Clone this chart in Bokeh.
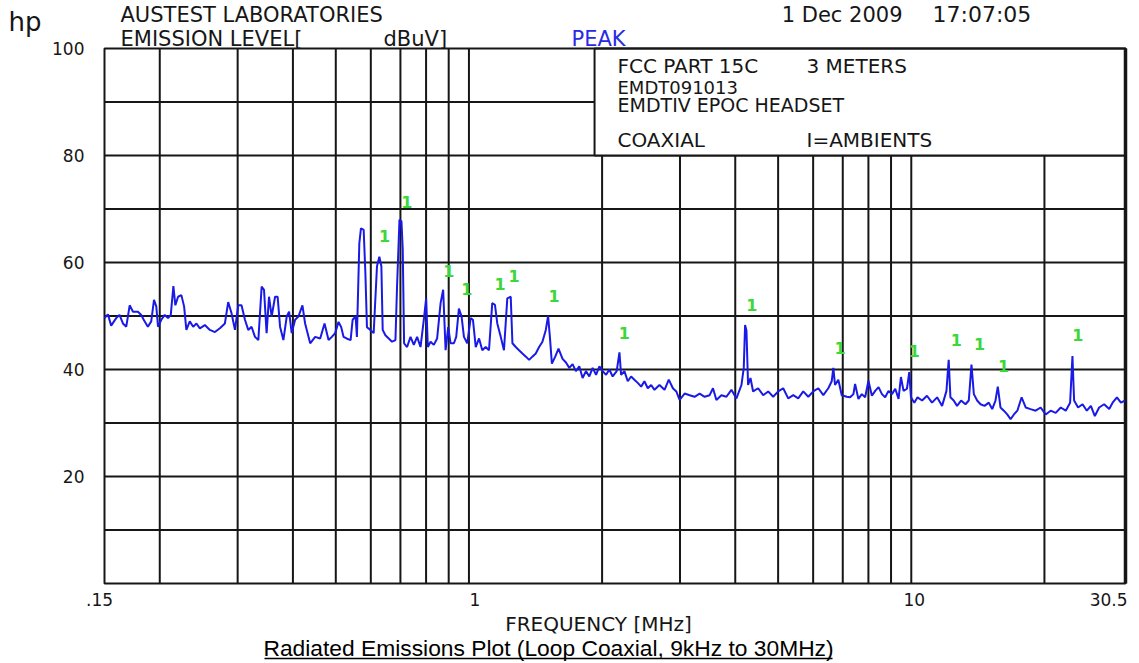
import math
from bokeh.plotting import figure
from bokeh.models import Label
from bokeh.core.properties import value
from bokeh.embed import file_html
from bokeh.resources import INLINE

# ---------------- data ----------------
freq_mhz = [
    0.150, 0.1527, 0.1553, 0.1594, 0.1622, 0.1651, 0.1680, 0.1710, 0.1740, 0.1785,
    0.1816, 0.1848, 0.1880, 0.1913, 0.1941, 0.1964, 0.1982, 0.2016, 0.2052, 0.2088,
    0.2118, 0.2147, 0.2169, 0.2200, 0.2238, 0.2270, 0.2297, 0.2338, 0.2380, 0.2421,
    0.2464, 0.2529, 0.2596, 0.2665, 0.2735, 0.2807, 0.2856, 0.2906, 0.2958, 0.3009,
    0.3061, 0.3116, 0.3170, 0.3225, 0.3283, 0.3341, 0.3399, 0.3441, 0.3488, 0.3532,
    0.3581, 0.3645, 0.3694, 0.3741, 0.3806, 0.3873, 0.3921, 0.3975, 0.4046, 0.4116,
    0.4203, 0.4262, 0.4376, 0.4491, 0.4610, 0.4716,
    0.4815, 0.4898, 0.4984, 0.5072, 0.5144, 0.5206, 0.5289, 0.5401, 0.5458, 0.5544,
    0.5581, 0.5652, 0.5700, 0.5781, 0.5833, 0.5881, 0.5986, 0.6090, 0.6196, 0.6273,
    0.6339, 0.6383, 0.6473, 0.6586, 0.6701, 0.6821, 0.6878, 0.6965, 0.7038, 0.7085,
    0.7135, 0.7247, 0.7377, 0.7505, 0.7636, 0.7772, 0.7907, 0.8002, 0.8073, 0.8189,
    0.8329, 0.8474, 0.8628, 0.8744, 0.8855, 0.8976, 0.9089, 0.9247, 0.9359, 0.9491,
    0.9625, 0.9743, 0.9911, 1.009, 1.021, 1.036, 1.054, 1.072, 1.091, 1.110,
    1.129, 1.145, 1.159, 1.180, 1.200, 1.221, 1.243, 1.254, 1.276, 1.298,
    1.321, 1.345, 1.368, 1.391, 1.416, 1.441, 1.466, 1.492, 1.510, 1.524,
    1.540, 1.567, 1.594, 1.628,
    1.657, 1.686, 1.715, 1.745, 1.776, 1.807, 1.839, 1.871, 1.904, 1.938,
    1.972, 2.006, 2.042, 2.077, 2.113, 2.158, 2.189, 2.208, 2.246, 2.286,
    2.326, 2.366, 2.408, 2.451, 2.493, 2.537, 2.582, 2.627, 2.696, 2.768,
    2.830, 2.891, 2.943, 2.994, 3.073, 3.155, 3.237, 3.323, 3.411, 3.501,
    3.562, 3.626, 3.721, 3.820, 3.921, 4.025, 4.131, 4.181, 4.210, 4.240,
    4.276, 4.330, 4.389, 4.506, 4.625, 4.748, 4.873, 5.002, 5.134, 5.270,
    5.410, 5.552, 5.699, 5.850, 6.004, 6.163, 6.326, 6.493, 6.609, 6.665,
    6.724, 6.840, 6.963, 7.147,
    7.272, 7.399, 7.464, 7.594, 7.730, 7.865, 8.002, 8.146, 8.288, 8.433,
    8.584, 8.730, 8.882, 9.042, 9.200, 9.359, 9.476, 9.605, 9.777, 9.896,
    9.984, 10.16, 10.33, 10.58, 10.85, 11.14, 11.44, 11.74, 12.01, 12.15,
    12.26, 12.47, 12.69, 12.96, 13.26, 13.49, 13.68, 13.85, 14.09, 14.34,
    14.64, 14.97, 15.24, 15.50, 15.69, 15.91, 16.19, 16.48, 16.77, 17.06,
    17.37, 17.76, 18.14, 18.61, 19.10, 19.61, 20.13, 20.66, 21.21, 21.77,
    22.35, 22.86, 23.14, 23.34, 23.83, 24.39, 24.94, 25.47, 26.00, 26.59,
    27.29, 28.02, 28.52, 29.17, 29.78, 30.41,
]
level_dbuv = [
    49.6, 50.3, 48.2, 49.6, 50.2, 48.6, 48.0, 52.0, 50.8, 50.8,
    50.2, 49.0, 48.0, 49.0, 53.0, 51.8, 48.0, 49.3, 50.2, 49.6,
    50.2, 55.6, 52.0, 53.6, 53.9, 51.8, 47.4, 49.0, 48.0, 48.6,
    47.7, 48.3, 47.4, 47.0, 47.7, 48.6, 52.6, 50.5, 47.4, 52.0,
    52.0, 49.3, 47.4, 48.0, 46.1, 45.5, 55.5, 54.9, 46.8, 53.6,
    49.9, 53.6, 53.6, 48.0, 45.5, 49.9, 50.8, 46.8, 49.3, 49.9,
    52.0, 48.6, 44.9, 46.1, 45.8, 48.6,
    45.5, 46.1, 46.8, 48.9, 47.9, 46.1, 45.8, 45.5, 49.3, 49.9,
    46.1, 63.6, 66.4, 66.1, 58.0, 47.9, 47.4, 46.8, 59.3, 61.1,
    59.3, 47.4, 46.4, 45.8, 45.2, 45.5, 55.5, 68.0, 67.7, 62.4,
    44.9, 44.2, 46.1, 44.6, 46.1, 44.2, 49.3, 53.3, 44.2, 45.2,
    44.6, 45.8, 52.4, 54.9, 43.6, 47.9, 44.9, 44.9, 46.1, 51.4,
    49.9, 46.1, 44.9, 49.6, 49.3, 44.2, 45.8, 43.6, 44.2, 43.6,
    52.4, 52.1, 48.6, 46.1, 43.6, 53.3, 53.6, 44.9, 44.2, 43.6,
    43.0, 42.4, 41.8, 42.4, 43.0, 44.2, 45.2, 47.4, 50.0, 46.1,
    41.1, 42.4, 43.9, 42.0,
    41.3, 40.3, 41.0, 39.7, 40.6, 38.4, 39.7, 38.7, 40.3, 39.0,
    40.6, 39.7, 39.0, 40.0, 38.7, 39.7, 43.2, 39.0, 39.7, 37.8,
    38.7, 38.1, 37.5, 36.8, 37.8, 36.5, 37.1, 36.2, 37.1, 36.2,
    38.1, 36.5, 35.9, 34.3, 35.5, 35.2, 34.9, 35.5, 34.9, 35.2,
    36.5, 34.3, 35.2, 34.9, 36.2, 34.6, 37.1, 40.3, 48.3, 47.3,
    37.1, 38.4, 35.9, 36.5, 35.2, 35.9, 34.9, 35.9, 36.5, 34.6,
    35.2, 34.6, 35.9, 34.9, 35.9, 36.5, 35.2, 36.5, 37.8, 40.3,
    37.1, 38.1, 35.2, 34.9,
    34.8, 35.4, 37.3, 34.5, 35.4, 34.8, 37.9, 35.1, 36.0, 36.7,
    35.4, 34.8, 36.0, 35.4, 36.4, 34.5, 38.6, 36.0, 36.4, 39.5,
    34.8, 33.8, 34.8, 34.2, 35.1, 33.8, 34.8, 33.2, 36.0, 41.8,
    34.8, 34.2, 33.2, 34.2, 33.5, 34.2, 40.9, 35.4, 34.2, 33.5,
    33.2, 33.8, 32.6, 34.2, 36.8, 32.9, 32.3, 31.6, 30.7, 31.6,
    32.3, 34.8, 32.9, 32.6, 32.3, 32.9, 31.6, 32.3, 31.9, 32.9,
    32.3, 33.8, 42.5, 34.2, 32.9, 33.5, 32.3, 33.2, 31.3, 32.9,
    33.5, 32.6, 33.8, 34.8, 33.8, 34.2,
]

# ambient markers "1"
marker_freq = [0.7236, 0.6449, 0.9008, 0.9896, 1.176, 1.265, 1.558, 2.246,
               4.361, 6.902, 10.16, 12.65, 14.26, 16.17, 23.79]
marker_level = [71.4, 64.9, 58.5, 55.1, 55.9, 57.4, 53.8, 46.9,
                52.1, 44.1, 43.4, 45.6, 44.7, 40.6, 46.5]
marker_text = ["1", "1", "1", "1", "1", "1", "1", "1",
               "1", "1", "1", "1", "1", "1", "1"]

x_tick_values = [0.15, 1, 10, 30.5]
x_tick_labels = [".15", "1", "10", "30.5"]
y_tick_values = [20, 40, 60, 80, 100]
y_tick_labels = ["20", "40", "60", "80", "100"]
x_grid_values = [0.2, 0.3, 0.4, 0.5, 0.6, 0.7, 0.8, 0.9, 1,
                 2, 3, 4, 5, 6, 7, 8, 9, 10, 20]
y_grid_values = [10, 20, 30, 40, 50, 60, 70, 80, 90]

F_MIN, F_MAX = 0.15, 30.5
DB_MIN, DB_MAX = 0, 100
BOX_F_LEFT = 1.923
BOX_DB_BOTTOM = 80

# ---------------- layout (pixels on the canvas) ----------------
W, H = 1139, 663
PL, PR, PT, PB = 104, 1125, 48, 583
PPD = (PR - PL) / math.log10(F_MAX / F_MIN)      # pixels per decade
PPDB = (PB - PT) / (DB_MAX - DB_MIN)             # pixels per dB


def fx(px):
    return F_MIN * 10 ** ((px - PL) / PPD)


def dy(py):
    return DB_MAX - (py - PT) / PPDB


HP_FONT = "DejaVu Sans"
INK = "#161616"

p = figure(width=W, height=H, x_axis_type="log",
           x_range=(fx(0), fx(W)), y_range=(dy(H), dy(0)),
           x_axis_location=None, y_axis_location=None,
           output_backend="svg", toolbar_location=None, title=None,
           min_border=0)
p.background_fill_color = "white"
p.border_fill_color = "white"
p.outline_line_color = None
p.grid.visible = False

# grid lines
nx = len(x_grid_values)
p.segment(x0=x_grid_values, y0=[DB_MIN] * nx, x1=x_grid_values, y1=[DB_MAX] * nx,
          line_color=INK, line_width=2)
ny = len(y_grid_values)
p.segment(x0=[F_MIN] * ny, y0=y_grid_values, x1=[F_MAX] * ny, y1=y_grid_values,
          line_color=INK, line_width=2)

# information box in the upper right corner
p.quad(left=[BOX_F_LEFT], right=[F_MAX], bottom=[BOX_DB_BOTTOM], top=[DB_MAX],
       fill_color="white", line_color=INK, line_width=2)

# plot frame
p.quad(left=[F_MIN], right=[F_MAX], bottom=[DB_MIN], top=[DB_MAX],
       fill_alpha=0, line_color=INK, line_width=2)
p.segment(x0=[F_MAX], y0=[DB_MIN], x1=[F_MAX], y1=[DB_MAX],
          line_color=INK, line_width=3.5)

# trace
p.line(freq_mhz, level_dbuv, line_color="#1a1ae6", line_width=2)

# ambient markers
p.text(x=marker_freq, y=marker_level, text=marker_text,
       text_color="#3ad83a", text_font=value(HP_FONT), text_font_size="16px",
       text_font_style="bold", text_align="center", text_baseline="middle")


def lab(x, y, text, size, color=INK, align="left", font=HP_FONT, x_offset=0):
    p.add_layout(Label(x=x, y=y, text=text, text_font=font,
                       text_font_size=size, text_color=color,
                       text_align=align, text_baseline="middle",
                       x_offset=x_offset))


# header (y values are the visual centres of the capitals)
lab(fx(8), dy(21), "hp", "26px")
lab(fx(120), dy(14), "AUSTEST LABORATORIES", "21px")
lab(fx(120), dy(38.5), "EMISSION LEVEL[", "21px")
lab(fx(383), dy(38.5), "dBuV]", "21px")
lab(fx(571), dy(38.5), "PEAK", "21px", color="#2a2ae6")
lab(fx(902), dy(14), "1 Dec 2009", "21px", align="right")
lab(fx(932), dy(14), "17:07:05", "22px")

# box texts
lab(fx(617), dy(65), "FCC PART 15C", "20px")
lab(fx(806), dy(65), "3 METERS", "20px")
lab(fx(617), dy(87), "EMDT091013", "18px")
lab(fx(617), dy(104), "EMDTIV EPOC HEADSET", "19px")
lab(fx(617), dy(139), "COAXIAL", "20px")
lab(fx(806), dy(139), "I=AMBIENTS", "20px")

# y tick labels
for yv, yt in zip(y_tick_values, y_tick_labels):
    lab(fx(84), yv, yt, "17px", align="right")

# x tick labels
x_offsets = [-5, 6, 3, 2]
x_aligns = ["center", "center", "center", "right"]
for xv, xt, xo, al in zip(x_tick_values, x_tick_labels, x_offsets, x_aligns):
    lab(xv, dy(599), xt, "17px", align=al, x_offset=xo)

lab(fx(598), dy(623), "FREQUENCY [MHz]", "20px", align="center")

# caption with underline
lab(fx(548), dy(647), "Radiated Emissions Plot (Loop Coaxial, 9kHz to 30MHz)",
    "22.8px", color="black", align="center", font="Liberation Sans")
p.segment(x0=[fx(264)], y0=[dy(658)], x1=[fx(832)], y1=[dy(658)],
          line_color="black", line_width=1.5)

open("out.html", "w").write(file_html(p, INLINE))
